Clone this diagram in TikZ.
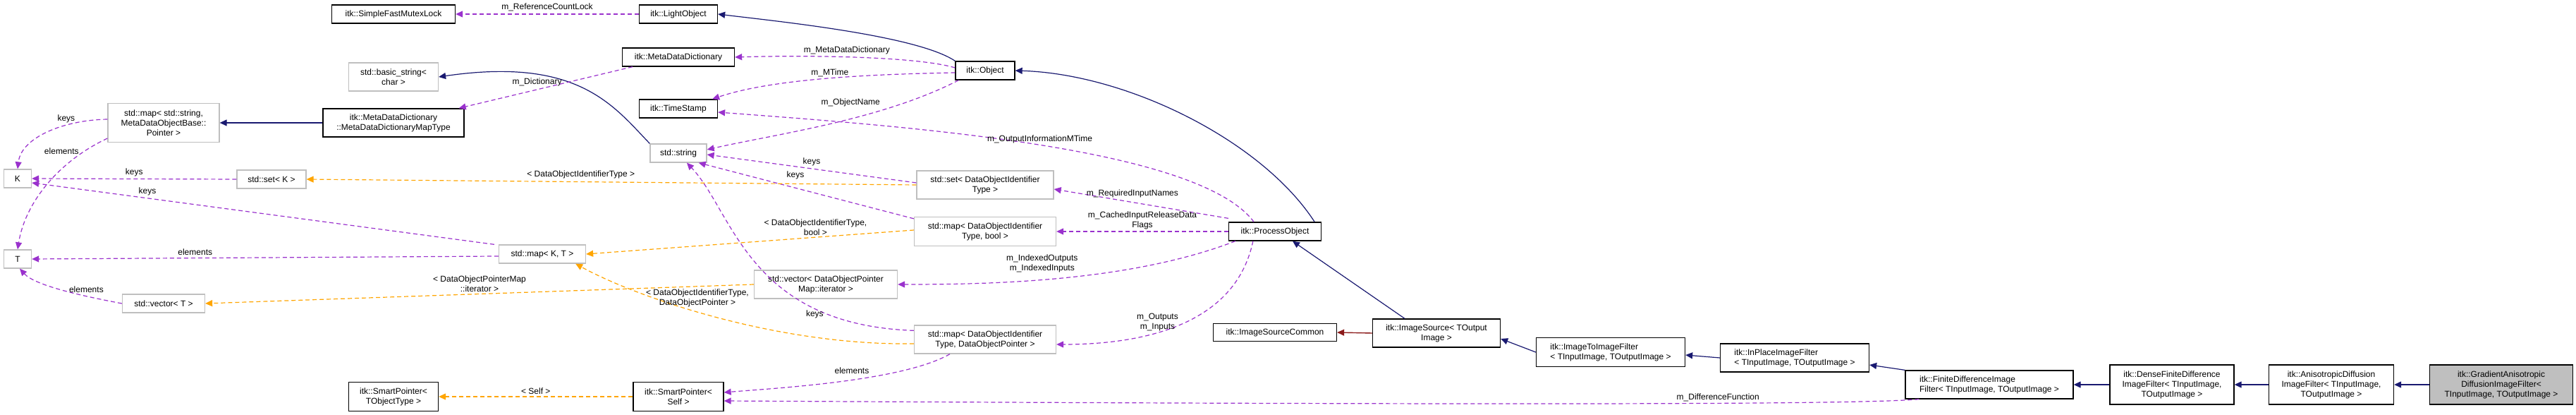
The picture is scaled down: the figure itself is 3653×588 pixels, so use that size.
\documentclass[tikz,border=0pt]{standalone}
\usepackage{fontspec}
\setmainfont{Liberation Sans}
\usetikzlibrary{arrows.meta}
\definecolor{inhcol}{HTML}{191970}
\definecolor{usecol}{HTML}{9A32CD}
\definecolor{tplcol}{HTML}{FFA500}
\definecolor{prvcol}{HTML}{8B1A1A}
\tikzset{%
  cls/.style      = {shape=rectangle, draw, line width=1.3pt, inner sep=3pt,%
                     align=center, font=\fontsize{12}{14}\selectfont},%
  docnode/.style  = {cls, draw=black},%
  stdnode/.style  = {cls, draw=black!25},%
  current/.style  = {docnode, fill=black!25},%
  tip/.style      = {-{Triangle[length=10pt,width=9pt]}},%
  inherit/.style  = {tip, draw=inhcol, line width=1.2pt},%
  privinh/.style  = {tip, draw=prvcol, line width=1.4pt},%
  member/.style   = {tip, draw=usecol, line width=1.2pt, dash pattern=on 6pt off 4pt},%
  tmpl/.style     = {tip, draw=tplcol, line width=1.2pt, dash pattern=on 6pt off 4pt},%
  lbl/.style      = {font=\fontsize{12}{14}\selectfont, align=center, inner sep=0pt}%
}
\begin{document}
\begin{tikzpicture}[x=1pt,y=-1pt]
  \useasboundingbox (0,0) rectangle (3653,588);
  % classes
  \node[docnode, minimum width=175, minimum height=26] (mutex) at (558,20) {itk::SimpleFastMutexLock};
  \node[docnode, minimum width=111, minimum height=26] (light) at (962,20) {itk::LightObject};
  \node[docnode, minimum width=159, minimum height=26] (mdd) at (962,81) {itk::MetaDataDictionary};
  \node[docnode, minimum width=111, minimum height=26] (stamp) at (962,154) {itk::TimeStamp};
  \node[stdnode, minimum width=80, minimum height=26] (str) at (962,217) {std::string};
  \node[docnode, minimum width=84, minimum height=26] (obj) at (1397,100) {itk::Object};
  \node[stdnode, minimum width=127, minimum height=40] (bstr) at (558,109) {std::basic\_string<\\char >};
  \node[docnode, minimum width=200, minimum height=40] (maptype) at (558,174) {itk::MetaDataDictionary\\::MetaDataDictionaryMapType};
  \node[stdnode, minimum width=158, minimum height=55] (mapstr) at (232,174) {std::map< std::string,\\MetaDataObjectBase::\\Pointer >};
  \node[stdnode, minimum width=39, minimum height=26] (K) at (25,253) {K};
  \node[stdnode, minimum width=98, minimum height=26] (setK) at (385,254) {std::set< K >};
  \node[stdnode, minimum width=39, minimum height=26] (T) at (25,367) {T};
  \node[stdnode, minimum width=123, minimum height=26] (mapKT) at (769,360) {std::map< K, T >};
  \node[stdnode, minimum width=117, minimum height=26] (vecT) at (232,430) {std::vector< T >};
  \node[docnode, minimum width=127, minimum height=41] (spobj) at (558,562) {itk::SmartPointer<\\TObjectType >};
  \node[stdnode, minimum width=194, minimum height=40] (setid) at (1397,262) {std::set< DataObjectIdentifier\\Type >};
  \node[stdnode, minimum width=201, minimum height=41] (mapbool) at (1397,328) {std::map< DataObjectIdentifier\\Type, bool >};
  \node[stdnode, minimum width=203, minimum height=40] (veciter) at (1171,403) {std::vector< DataObjectPointer\\Map::iterator >};
  \node[stdnode, minimum width=201, minimum height=40] (mapdop) at (1397,481) {std::map< DataObjectIdentifier\\Type, DataObjectPointer >};
  \node[docnode, minimum width=128, minimum height=41] (spself) at (962,562) {itk::SmartPointer<\\Self >};
  \node[docnode, minimum width=131, minimum height=26] (proc) at (1808,328) {itk::ProcessObject};
  \node[docnode, minimum width=175, minimum height=25] (common) at (1808,471) {itk::ImageSourceCommon};
  \node[docnode, minimum width=181, minimum height=40] (source) at (2037,472) {itk::ImageSource< TOutput\\Image >};
  \node[docnode, minimum width=211, minimum height=41, align=left] (i2i) at (2284,499) {itk::ImageToImageFilter\\< TInputImage, TOutputImage >};
  \node[docnode, minimum width=211, minimum height=40, align=left] (inplace) at (2545,507) {itk::InPlaceImageFilter\\< TInputImage, TOutputImage >};
  \node[docnode, minimum width=238, minimum height=40, align=left] (fdif) at (2821,545) {itk::FiniteDifferenceImage\\Filter< TInputImage, TOutputImage >};
  \node[docnode, minimum width=176, minimum height=56] (dense) at (3080,545) {itk::DenseFiniteDifference\\ImageFilter< TInputImage,\\TOutputImage >};
  \node[docnode, minimum width=177, minimum height=56] (aniso) at (3306,545) {itk::AnisotropicDiffusion\\ImageFilter< TInputImage,\\TOutputImage >};
  \node[current, minimum width=203, minimum height=56] (grad) at (3547,545) {itk::GradientAnisotropic\\DiffusionImageFilter<\\TInputImage, TOutputImage >};
  % inheritance
  \draw[inherit] (obj.north west) .. controls (1300,50) and (1100,30) .. (light.east);
  \draw[inherit] ([xshift=-10pt]proc.north east) .. controls (1790,200) and (1600,105) .. (obj.east);
  \draw[inherit] (str.north west) .. controls (870,150) and (820,80) .. (bstr.east);
  \draw[inherit] (maptype.west) -- (mapstr.east);
  \draw[inherit] ([xshift=-45pt]source.north) -- ([xshift=25pt]proc.south);
  \draw[privinh] (source.west) -- (common.east);
  \draw[inherit] (i2i.west) -- ([yshift=-8pt]source.east);
  \draw[inherit] (inplace.west) -- ([yshift=-4pt]i2i.east);
  \draw[inherit] (fdif.north west) -- ([yshift=-10pt]inplace.east);
  \draw[inherit] (dense.west) -- (fdif.east);
  \draw[inherit] (aniso.west) -- (dense.west -| dense.east);
  \draw[inherit] (grad.west) -- (aniso.east);
  % members
  \draw[member] (light.west) -- node[lbl, above=4pt] {m\_ReferenceCountLock} (mutex.east);
  \draw[member] ([yshift=4pt]obj.west) .. controls (1300,80) and (1150,78) .. node[lbl, pos=0.55, above=3pt] {m\_MetaDataDictionary} (mdd.east);
  \draw[member] ([yshift=-3pt]obj.west) .. controls (1250,105) and (1100,110) .. node[lbl, pos=0.5, above=2pt] {m\_MTime} ([xshift=-8pt]stamp.north east);
  \draw[member] ([xshift=5pt]obj.south west) .. controls (1250,170) and (1100,190) .. node[lbl, pos=0.3, above left=4pt] {m\_ObjectName} ([yshift=5pt]str.east);
  \draw[member] ([xshift=-30pt]proc.north) .. controls (1700,210) and (1300,180) .. node[lbl, pos=0.5, above=2pt] {m\_OutputInformationMTime} ([yshift=-5pt]stamp.east);
  \draw[member] ([xshift=-65pt]mdd.south) -- node[lbl, pos=0.55, above=4pt] {m\_Dictionary} ([xshift=-8pt]maptype.north east);
  \draw[member] ([yshift=5pt]mapstr.west) .. controls (90,170) and (30,195) .. node[lbl, pos=0.25, above left=0pt] {keys} (K.north);
  \draw[member] ([yshift=-22pt]mapstr.west) .. controls (80,230) and (35,290) .. node[lbl, pos=0.2, above left=0pt] {elements} (T.north);
  \draw[member] (setK.west) -- node[lbl, above=3pt] {keys} (K.east);
  \draw[member] ([xshift=-6pt]mapKT.north west) -- node[lbl, pos=0.75, above=3pt] {keys} ([yshift=-6pt]K.east);
  \draw[member] ([yshift=-3pt]mapKT.west) -- node[lbl, pos=0.65, above=3pt] {elements} (T.east);
  \draw[member] (vecT.west) .. controls (120,420) and (50,405) .. node[lbl, pos=0.3, above=4pt] {elements} ([xshift=3pt]T.south);
  \draw[member] ([yshift=3pt]setid.west) -- node[lbl, pos=0.5, above=3pt] {keys} ([yshift=-2pt]str.east);
  \draw[member] ([yshift=-3pt]mapbool.north west) -- node[lbl, pos=0.55, above=12pt] {keys} ([xshift=-12pt]str.south east);
  \draw[member] ([yshift=-8pt]mapdop.north west) .. controls (1060,460) and (1040,300) .. node[lbl, pos=0.25, below=2pt] {keys} ([xshift=12pt]str.south);
  \draw[member] ([yshift=5pt]proc.north west) -- node[lbl, pos=0.55, above=6pt] {m\_RequiredInputNames} ([yshift=-6pt]setid.east);
  \draw[member] (proc.west) -- node[lbl, above=2pt] {m\_CachedInputReleaseData\\Flags} (mapbool.east);
  \draw[member] ([xshift=10pt]proc.south west) .. controls (1600,400) and (1400,403) .. node[lbl, pos=0.55, above=10pt] {m\_IndexedOutputs\\m\_IndexedInputs} (veciter.east);
  \draw[member] ([xshift=35pt]proc.south west) .. controls (1750,470) and (1600,488) .. node[lbl, pos=0.45, left=10pt] {m\_Outputs\\m\_Inputs} ([yshift=-7pt]mapdop.east);
  \draw[member] ([xshift=-50pt]mapdop.south) .. controls (1280,540) and (1100,550) .. node[lbl, pos=0.45, above=8pt] {elements} ([yshift=6pt]spself.east);
  \draw[member] ([xshift=20pt]fdif.south west) .. controls (2650,572) and (2300,575) .. node[lbl, pos=0.42, above=2pt] {m\_DifferenceFunction} ([yshift=-6pt]spself.east);
  % template instances
  \draw[tmpl] (setid.west) -- node[lbl, pos=0.55, above=4pt] {< DataObjectIdentifierType >} (setK.east);
  \draw[tmpl] ([yshift=2pt]mapbool.west) -- node[lbl, pos=0.3, above=2pt] {< DataObjectIdentifierType,\\bool >} (mapKT.east);
  \draw[tmpl] ([yshift=-6pt]mapdop.west) .. controls (1100,490) and (900,420) .. node[lbl, pos=0.55, above=6pt] {< DataObjectIdentifierType,\\DataObjectPointer >} ([xshift=-15pt]mapKT.south east);
  \draw[tmpl] (veciter.west) -- node[lbl, pos=0.5, above=2pt] {< DataObjectPointerMap\\::iterator >} (vecT.east);
  \draw[tmpl] (spself.west) -- node[lbl, above=3pt] {< Self >} (spobj.east);
\end{tikzpicture}
\end{document}
